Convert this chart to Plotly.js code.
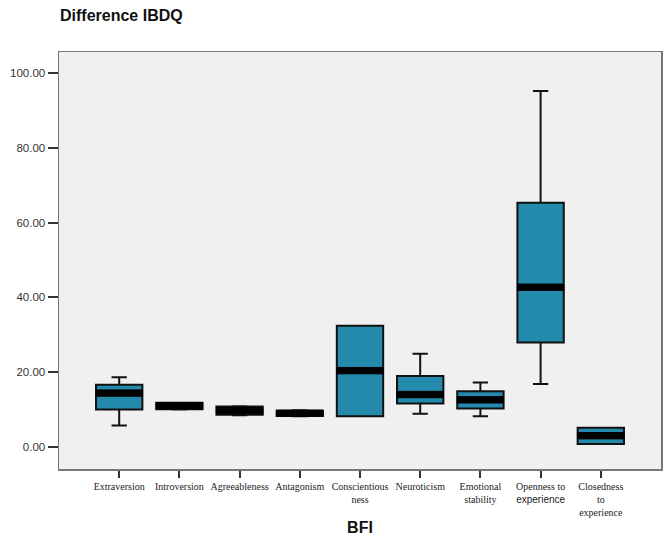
<!DOCTYPE html>
<html>
<head>
<meta charset="utf-8">
<script src="https://cdn.plot.ly/plotly-3.0.1.min.js"></script>
<style>body{margin:0;background:#fff}#chart{width:670px;height:540px}</style>
</head>
<body>
<div id="chart"></div>
<script>
var categories = ["Extraversion","Introversion","Agreeableness","Antagonism","Conscientiousness","Neuroticism","Emotional stability","Openness to experience","Closedness to experience"];
var tickLabels = ["Extraversion","Introversion","Agreeableness","Antagonism","Conscientious<br>ness","Neuroticism","Emotional<br>stability","Openness to<br><span style=\"font-family:'Liberation Sans'\">experience</span>","Closedness<br>to<br>experience"];
var lowerFence = [5.7, 10.0, 8.5, 8.2, 8.2, 8.9, 8.2, 16.8, 0.8];
var q1Values   = [10.0, 10.1, 8.6, 8.3, 8.2, 11.6, 10.3, 27.9, 0.8];
var medians    = [14.4, 11.0, 9.7, 9.0, 20.4, 14.0, 12.6, 42.7, 3.0];
var q3Values   = [16.6, 11.8, 10.8, 9.7, 32.4, 19.0, 14.9, 65.3, 5.1];
var upperFence = [18.6, 11.8, 10.9, 9.8, 32.4, 24.9, 17.2, 95.2, 5.1];

var xIdx = categories.map(function(c, i){ return i; });
var bandHalf = 0.85; // half thickness of the heavy median band, in data units
var bandLo = medians.map(function(m){ return m - bandHalf; });
var bandHi = medians.map(function(m){ return m + bandHalf; });

var boxTrace = {
  type: 'box',
  x: xIdx,
  q1: q1Values, median: medians, q3: q3Values,
  lowerfence: lowerFence, upperfence: upperFence,
  width: 0.77,
  whiskerwidth: 0.33,
  fillcolor: '#238AAB',
  line: {color: '#111111', width: 2},
  boxpoints: false,
  hoverinfo: 'skip',
  showlegend: false
};
var medianTrace = {
  type: 'box',
  x: xIdx,
  q1: bandLo, median: medians, q3: bandHi,
  lowerfence: bandLo, upperfence: bandHi,
  width: 0.77,
  whiskerwidth: 0,
  fillcolor: '#000000',
  line: {color: '#000000', width: 1},
  boxpoints: false,
  hoverinfo: 'skip',
  showlegend: false
};

var layout = {
  width: 670, height: 540,
  paper_bgcolor: '#ffffff',
  plot_bgcolor: '#f0f0f0',
  margin: {l: 59, r: 9, t: 52, b: 71},
  boxmode: 'overlay',
  title: {
    text: '<b>Difference IBDQ</b>',
    font: {family: 'Liberation Sans, Arial, sans-serif', size: 16, color: '#111'},
    xref: 'container', x: 60/670, xanchor: 'left',
    yref: 'container', y: 1 - 15/540, yanchor: 'middle'
  },
  xaxis: {
    range: [-1, 9],
    tickmode: 'array', tickvals: xIdx, ticktext: tickLabels,
    ticks: 'outside', ticklen: 7, tickwidth: 2, tickcolor: '#333',
    tickfont: {family: 'Liberation Serif, Times New Roman, serif', size: 10, color: '#222'},
    showline: true, linecolor: '#777', linewidth: 1.5, mirror: true,
    showgrid: false, zeroline: false,
    title: {text: '<b>BFI</b>', font: {family: 'Liberation Sans, Arial, sans-serif', size: 16, color: '#111'}, standoff: 5}
  },
  yaxis: {
    range: [-5.9, 105.6],
    tickvals: [0, 20, 40, 60, 80, 100],
    tickformat: '.2f',
    ticks: 'outside', ticklen: 10, tickwidth: 2, tickcolor: '#333',
    tickfont: {family: 'Liberation Sans, Arial, sans-serif', size: 11.5, color: '#333'},
    showline: true, linecolor: '#777', linewidth: 1.5, mirror: true,
    showgrid: false, zeroline: false
  }
};

Plotly.newPlot('chart', [boxTrace, medianTrace], layout, {displayModeBar: false, staticPlot: true});
</script>
</body>
</html>
